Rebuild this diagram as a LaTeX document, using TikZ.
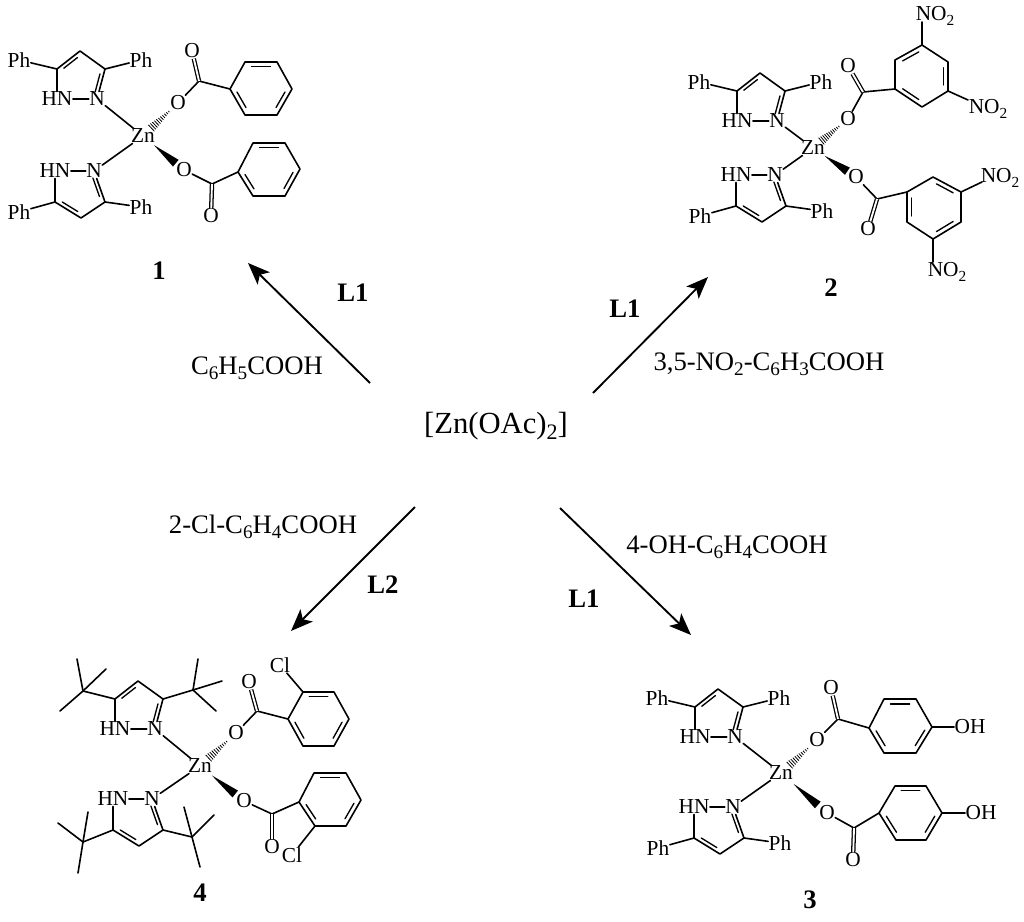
\documentclass[tikz,border=0pt]{standalone}
\usepackage{fontspec}
\usepackage{graphicx}
\setmainfont{Liberation Serif}
\usetikzlibrary{calc,arrows.meta}
\newcommand{\sbs}[1]{\raisebox{-.2em}{\scalebox{.72}{#1}}}
\tikzset{
  atom/.style={font=\fontsize{16}{18}\selectfont,inner sep=.4pt,outer sep=0pt},
  bond/.style={line width=1.2pt,line cap=round,line join=round,black},
  dblbond/.style={bond,line cap=butt,double,double distance=1.4pt,line width=.95pt},
  hashline/.style={line width=.6pt,black},
  medium/.style={font=\fontsize{20}{22}\selectfont,inner sep=0pt},
  big/.style={font=\fontsize{23}{25}\selectfont,inner sep=0pt},
  tag/.style={font=\fontsize{20}{22}\selectfont\bfseries,inner sep=0pt},
  reaction/.style={line width=1.4pt,black,-{Stealth[length=16.5pt,width=13pt,inset=4pt]}}
}
% inner line of a double bond: #1,#2 the bond ends, #3 the ring centre
\newcommand{\innerc}[3]{\draw[bond,line width=1pt] ($(#1)!.14!(#2)!.17!(#3)$) -- ($(#2)!.14!(#1)!.17!(#3)$);}
% pyrazole above the metal; N at (#2,#3)
\newcommand{\pzup}[3]{%
  \begin{scope}[shift={(#2,#3)}]
    \node[atom] (#1N) at (0,0) {N};
    \node[atom] (#1HN) at (-40,0) {HN};
    \coordinate (#1Cf) at (-40,-30);
    \coordinate (#1Cd) at (-17,-48);
    \coordinate (#1Ct) at (8,-30);
    \coordinate (#1Ce) at (-16,-22);
    \coordinate (#1L) at (-78,-39);
    \coordinate (#1R) at (44,-39);
  \end{scope}
  \draw[bond] (#1HN) -- (#1N);
  \draw[bond] (#1HN) -- (#1Cf) -- (#1Cd) -- (#1Ct) -- (#1N);
  \innerc{#1Cf}{#1Cd}{#1Ce}
  \innerc{#1Ct}{#1N}{#1Ce}}
% pyrazole below the metal; N at (#2,#3)
\newcommand{\pzdown}[3]{%
  \begin{scope}[shift={(#2,#3)}]
    \node[atom] (#1N) at (0,0) {N};
    \node[atom] (#1HN) at (-39,0) {HN};
    \coordinate (#1Cf) at (-39,31);
    \coordinate (#1Cd) at (-13,47);
    \coordinate (#1Ct) at (11,31);
    \coordinate (#1Ce) at (-14,20);
    \coordinate (#1L) at (-75,41);
    \coordinate (#1R) at (47,36);
  \end{scope}
  \draw[bond] (#1HN) -- (#1N);
  \draw[bond] (#1HN) -- (#1Cf) -- (#1Cd) -- (#1Ct) -- (#1N);
  \innerc{#1Cf}{#1Cd}{#1Ce}
  \innerc{#1Ct}{#1N}{#1Ce}}
% phenyl labels on a pyrazole
\newcommand{\phs}[1]{%
  \node[atom] (#1PL) at (#1L) {Ph};
  \node[atom] (#1PR) at (#1R) {Ph};
  \draw[bond] (#1Cf) -- (#1PL);
  \draw[bond] (#1Ct) -- (#1PR);}
% benzene ring: prefix, six vertices (b=c, d=e, f=a double)
\newcommand{\benz}[7]{%
  \coordinate (#1a) at (#2); \coordinate (#1b) at (#3); \coordinate (#1c) at (#4);
  \coordinate (#1d) at (#5); \coordinate (#1e) at (#6); \coordinate (#1f) at (#7);
  \coordinate (#1m) at ($(#1a)!.5!(#1d)$);
  \draw[bond] (#1a) -- (#1b) -- (#1c) -- (#1d) -- (#1e) -- (#1f) -- cycle;
  \innerc{#1b}{#1c}{#1m}
  \innerc{#1d}{#1e}{#1m}
  \innerc{#1f}{#1a}{#1m}}
% carboxylate: prefix, ester O, carbonyl C, carbonyl O
\newcommand{\carb}[4]{%
  \node[atom] (#1O) at (#2) {O};
  \coordinate (#1C) at (#3);
  \node[atom] (#1X) at (#4) {O};
  \draw[bond] (#1O) -- (#1C) -- (#1a);
  \draw[dblbond] (#1C) -- (#1X);}
% hashed bond, wide at the metal
\newcommand{\hashb}[2]{%
  \foreach \t/\w in {.24/3.3,.29/3.0,.34/2.75,.39/2.5,.44/2.2,.49/1.95,.54/1.7,.59/1.4,.64/1.15,.69/.9,.74/.6}{
    \draw[hashline] ($(#1)!\t!(#2)!\w pt!90:(#2)$) -- ($(#1)!\t!(#2)!\w pt!-90:(#2)$);}}
% wedge bond, narrow at the metal
\newcommand{\wedgeb}[2]{%
  \fill[black] ($(#1)!.27!(#2)$) -- ($(#1)!.8!(#2)!3.3pt!90:(#2)$) -- ($(#1)!.8!(#2)!3.3pt!-90:(#2)$) -- cycle;}
% tert-butyl: prefix, attached atom, centre, three ends
\newcommand{\tbu}[6]{%
  \coordinate (#1c) at (#3); \coordinate (#1x) at (#4); \coordinate (#1y) at (#5); \coordinate (#1z) at (#6);
  \draw[bond] (#2) -- (#1c);
  \draw[bond] (#1c) -- (#1x);
  \draw[bond] (#1c) -- (#1y);
  \draw[bond] (#1c) -- (#1z);}
\begin{document}
\begin{tikzpicture}[x=.75pt,y=-.75pt]
\useasboundingbox (0,0) rectangle (1024,921);
% ---------- centre and reactions
\node[big] (zoac) at (496,426) {[Zn(OAc)\sbs{2}]};
\coordinate (a1s) at (370,383); \coordinate (a1e) at (248,263);
\coordinate (a2s) at (593,393); \coordinate (a2e) at (708,277);
\coordinate (a3s) at (560,508); \coordinate (a3e) at (691,635);
\coordinate (a4s) at (415,507); \coordinate (a4e) at (291,631);
\draw[reaction] (a1s) -- (a1e);
\draw[reaction] (a2s) -- (a2e);
\draw[reaction] (a3s) -- (a3e);
\draw[reaction] (a4s) -- (a4e);
\node[medium] (r1) at (257,368) {C\sbs{6}H\sbs{5}COOH};
\node[medium] (r2) at (769,364) {3,5-NO\sbs{2}-C\sbs{6}H\sbs{3}COOH};
\node[medium] (r3) at (727,547) {4-OH-C\sbs{6}H\sbs{4}COOH};
\node[medium] (r4) at (263,527) {2-Cl-C\sbs{6}H\sbs{4}COOH};
\node[tag] (l1) at (353,293) {L1};
\node[tag] (l2) at (625,309) {L1};
\node[tag] (l3) at (584,599) {L1};
\node[tag] (l4) at (383,585) {L2};
\node[tag] (t1) at (159,271) {1};
\node[tag] (t2) at (831,288) {2};
\node[tag] (t3) at (810,900) {3};
\node[tag] (t4) at (200,893) {4};
% ---------- complex 1
\node[atom] (aZ) at (143,136) {Zn};
\pzup{aU}{97}{99} \phs{aU}
\pzdown{aD}{94}{171} \phs{aD}
\draw[bond] (aUN) -- (aZ); \draw[bond] (aDN) -- (aZ);
\benz{aP}{230,89}{245,62}{277,62}{292,89}{277,115}{245,115}
\carb{aP}{178,103}{199,81}{192,51}
\benz{aQ}{238,172}{253,143}{285,143}{300,169}{285,196}{253,196}
\carb{aQ}{184,170}{212,184}{211,216}
\hashb{aZ}{aPO} \wedgeb{aZ}{aQO}
% ---------- complex 2
\node[atom] (bZ) at (813,148) {Zn};
\pzup{bU}{777}{121} \phs{bU}
\pzdown{bD}{775}{175} \phs{bD}
\draw[bond] (bUN) -- (bZ); \draw[bond] (bDN) -- (bZ);
\benz{bP}{895,89}{895,60}{922,45}{948,62}{948,91}{922,107}
\carb{bP}{848,119}{863,92}{848,66}
\benz{bQ}{907,192}{933,177}{961,192}{961,222}{933,239}{907,222}
\carb{bQ}{856,177}{877,199}{868,229}
\hashb{bZ}{bPO} \wedgeb{bZ}{bQO}
\node[atom] (bn1) at (935,16) {NO\sbs{2}};
\node[atom] (bn2) at (988,109) {NO\sbs{2}};
\node[atom] (bn3) at (1000,178) {NO\sbs{2}};
\node[atom] (bn4) at (947,272) {NO\sbs{2}};
\coordinate (bk1) at (922,22); \coordinate (bk2) at (968,100);
\coordinate (bk3) at (982,182); \coordinate (bk4) at (933,262);
\draw[bond] (bPc) -- (bk1);
\draw[bond] (bPe) -- (bk2);
\draw[bond] (bQc) -- (bk3);
\draw[bond] (bQe) -- (bk4);
% ---------- complex 3
\node[atom] (cZ) at (781,773) {Zn};
\pzup{cU}{735}{737} \phs{cU}
\pzdown{cD}{733}{807} \phs{cD}
\draw[bond] (cUN) -- (cZ); \draw[bond] (cDN) -- (cZ);
\benz{cP}{869,728}{884,699}{916,699}{932,727}{916,753}{884,753}
\carb{cP}{817,740}{838,719}{831,688}
\benz{cQ}{879,813}{895,786}{926,786}{942,813}{926,840}{896,840}
\carb{cQ}{827,813}{854,828}{853,860}
\hashb{cZ}{cPO} \wedgeb{cZ}{cQO}
\node[atom] (cOH1) at (970,727) {OH};
\node[atom] (cOH2) at (981,813) {OH};
\draw[bond] (cPd) -- (cOH1);
\draw[bond] (cQd) -- (cOH2);
% ---------- complex 4
\node[atom] (dZ) at (200,766) {Zn};
\pzup{dU}{155}{729}
\pzdown{dD}{152}{799}
\draw[bond] (dUN) -- (dZ); \draw[bond] (dDN) -- (dZ);
\tbu{dA}{dUCf}{83,691}{77,659}{106,669}{60,711}
\tbu{dB}{dUCt}{193,690}{198,659}{222,681}{216,711}
\tbu{dE}{dDCf}{83,842}{58,823}{88,812}{78,873}
\tbu{dF}{dDCt}{192,837}{184,807}{214,815}{200,867}
\benz{dP}{288,719}{303,692}{334,692}{349,719}{334,746}{303,746}
\carb{dP}{236,733}{257,711}{249,682}
\benz{dQ}{299,802}{314,773}{346,773}{361,800}{346,826}{315,826}
\carb{dQ}{244,801}{272,814}{272,847}
\hashb{dZ}{dPO} \wedgeb{dZ}{dQO}
\node[atom] (dCl1) at (280,665) {Cl};
\node[atom] (dCl2) at (292,855) {Cl};
\draw[bond] (dPb) -- (dCl1);
\draw[bond] (dQf) -- (dCl2);
\end{tikzpicture}
\end{document}
